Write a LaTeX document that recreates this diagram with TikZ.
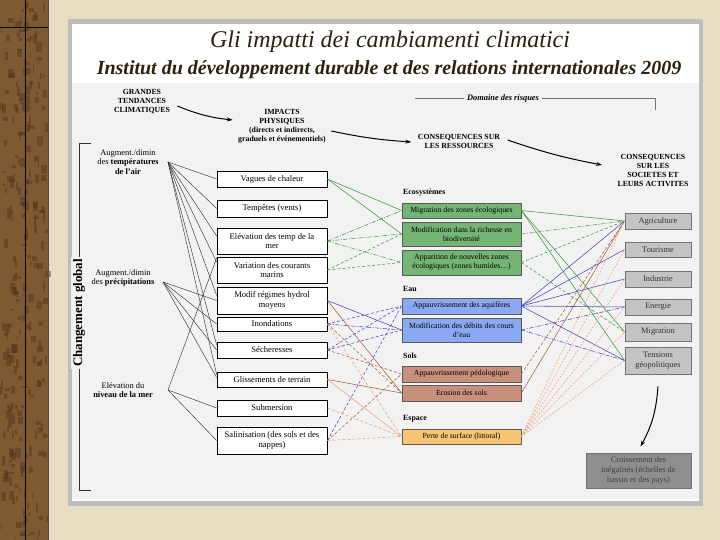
\documentclass[tikz,border=0pt]{standalone}
\usepackage{fontspec}
\setmainfont{Liberation Serif}
\usetikzlibrary{arrows.meta,calc}
\definecolor{bgbeige}{HTML}{E6DDC2}
\definecolor{wood}{HTML}{7E5A32}
\definecolor{wooddark}{HTML}{4E3418}
\definecolor{panelborder}{HTML}{BDBDBD}
\definecolor{panelgray}{HTML}{F2F2F2}
\definecolor{titlecol}{HTML}{2E200E}
\definecolor{gbox}{HTML}{74B474}
\definecolor{bbox}{HTML}{8BA9F2}
\definecolor{brbox}{HTML}{C8907A}
\definecolor{obox}{HTML}{F8C572}
\definecolor{cbox}{HTML}{C4C4C4}
\definecolor{dbox}{HTML}{8E8E8E}
\definecolor{lg}{HTML}{3C9A3C}
\definecolor{lb}{HTML}{4646C8}
\definecolor{lbr}{HTML}{A8603C}
\definecolor{lo}{HTML}{F0A078}
\begin{document}
\begin{tikzpicture}[x=1pt,y=-1pt,
  imp/.style={draw=black, line width=0.7pt, fill=white, minimum width=110pt, inner sep=0pt, align=center, font=\fontsize{8.6}{9.6}\selectfont},
  res/.style={draw=black!65, line width=0.7pt, minimum width=119pt, inner sep=0pt, align=center, font=\fontsize{7.8}{9}\selectfont},
  con/.style={draw=black!55, line width=0.8pt, fill=cbox, minimum width=66pt, inner sep=0pt, align=center, font=\fontsize{8.4}{9.6}\selectfont, text=black!80},
  hdr/.style={align=center, font=\fontsize{7.8}{9}\selectfont\bfseries},
  drv/.style={align=center, font=\fontsize{8.4}{9.6}\selectfont},
  cat/.style={anchor=west, inner sep=0pt, font=\fontsize{7.9}{9}\selectfont\bfseries},
  blk/.style={black!80, line width=0.45pt},
  dsh/.style={dash pattern=on 3pt off 2pt},
  ddt/.style={dash pattern=on 4pt off 1.5pt on 1pt off 1.5pt},
  dtt/.style={dash pattern=on 2pt off 1.5pt},
  cn/.style={line width=0.55pt},
  bigarrow/.style={line width=1pt, -{Stealth[length=6pt,width=4pt]}}
]
\useasboundingbox (0,0) rectangle (720,540);
% background
\fill[bgbeige] (0,0) rectangle (720,540);
\fill[wood] (0,0) rectangle (48,540);
\pgfmathsetseed{7}
\foreach \i in {1,...,260}{
  \pgfmathsetmacro\xx{rnd*46}
  \pgfmathsetmacro\yy{rnd*538}
  \pgfmathsetmacro\ww{1+rnd*5}
  \pgfmathsetmacro\hh{2+rnd*8}
  \fill[wooddark, opacity=0.45] (\xx,\yy) rectangle ++(\ww,\hh);
}
\draw[black, line width=0.8pt] (25,0) -- (25,540);
\draw[black, line width=0.8pt] (0,27) -- (48,27);
\draw[black!70, line width=0.6pt] (48,0) -- (48,540);
% panel
\fill[panelborder] (68,19) rectangle (703,506);
\fill[white] (72,24) rectangle (699,501);
\fill[panelgray] (72,83) rectangle (699,499);
% titles
\node[font=\fontsize{24}{26}\selectfont\itshape, text=titlecol] (title) at (390,42) {Gli impatti dei cambiamenti climatici};
\node[font=\fontsize{20}{22}\selectfont\bfseries\itshape, text=titlecol] (subtitle) at (389,70) {Institut du développement durable et des relations internationales 2009};

% headers
\node[hdr] (gt) at (142,102) {GRANDES\\TENDANCES\\CLIMATIQUES};
\node[hdr] (ip) at (282,126) {IMPACTS\\PHYSIQUES\\(directs et indirects,\\graduels et événementiels)};
\node[hdr] (cr) at (459,141) {CONSEQUENCES SUR\\LES RESSOURCES};
\node[hdr] (cs) at (653,170) {CONSEQUENCES\\SUR LES\\SOCIETES ET\\LEURS ACTIVITES};
\node[font=\fontsize{8.4}{9}\selectfont\bfseries\itshape] (dr) at (503,98) {Domaine des risques};
\draw[black!55, line width=0.6pt] (415,98) -- (dr.west);
\draw[black!55, line width=0.6pt] (dr.east) -- (655,98) -- (655,110);
\draw[bigarrow] ([xshift=4pt,yshift=-4pt]gt.east) to[bend right=8] ([xshift=-2pt,yshift=6pt]ip.west);
\draw[bigarrow] ([xshift=2pt,yshift=-5pt]ip.east) to[bend right=4] ([xshift=-3pt,yshift=-1pt]cr.west);
\draw[bigarrow] ([xshift=4pt,yshift=1pt]cr.east) to[bend right=4] ([xshift=-12pt,yshift=5pt]cs.west);

% left bracket
\draw[black!80, line width=0.6pt] (91,143) -- (79,143) -- (79,490) -- (91,490);
\node[rotate=90, fill=panelgray, inner sep=2pt, font=\fontsize{13}{15}\selectfont\bfseries] (cg) at (79,313) {Changement global};

% drivers
\node[drv] (dt) at (128,162) {Augment./dimin\\des \textbf{températures}\\\textbf{de l'air}};
\node[drv] (dp) at (123,278) {Augment./dimin\\des \textbf{précipitations}};
\node[drv] (ds) at (123,390) {Elévation du\\\textbf{niveau de la mer}};
\coordinate (tP) at (168,162);
\coordinate (pP) at (163,282);
\coordinate (sP) at (168,390);

% impacts
\node[imp, minimum height=16pt] (vag) at (272,179) {Vagues de chaleur};
\node[imp, minimum height=17pt] (tem) at (272,208.5) {Tempêtes (vents)};
\node[imp, minimum height=26pt] (ele) at (272,241) {Elévation des temp de la\\mer};
\node[imp, minimum height=26pt] (var) at (272,270) {Variation des courants\\marins};
\node[imp, minimum height=27pt] (mod) at (272,300.5) {Modif régimes hydrol\\moyens};
\node[imp, minimum height=14pt] (inon) at (272,324) {Inondations};
\node[imp, minimum height=16pt] (sec) at (272,350) {Sécheresses};
\node[imp, minimum height=15pt] (gli) at (272,379.5) {Glissements de terrain};
\node[imp, minimum height=16pt] (sub) at (272,408) {Submersion};
\node[imp, minimum height=27pt] (sal) at (272,440.5) {Salinisation (des sols et des\\nappes)};

% resources
\node[cat] (eco) at (403,193) {Ecosystèmes};
\node[res, fill=gbox, minimum height=15pt] (mig) at (461.5,210.5) {Migration des zones écologiques};
\node[res, fill=gbox, minimum height=24pt] (bio) at (461.5,234) {Modification dans la richesse en\\biodiversité};
\node[res, fill=gbox, minimum height=25pt] (app) at (461.5,262.5) {Apparition de nouvelles zones\\écologiques (zones humides…)};
\node[cat] (eau) at (403,289) {Eau};
\node[res, fill=bbox, minimum height=16pt] (aqu) at (461.5,306) {Appauvrissement des aquifères};
\node[res, fill=bbox, minimum height=24pt] (deb) at (461.5,330) {Modification des débits des cours\\d'eau};
\node[cat] (sol) at (403,356) {Sols};
\node[res, fill=brbox, minimum height=16pt] (ped) at (461.5,374) {Appauvrissement pédologique};
\node[res, fill=brbox, minimum height=16pt] (ero) at (461.5,393) {Erosion des sols};
\node[cat] (esp) at (403,419) {Espace};
\node[res, fill=obox, minimum height=15pt] (per) at (461.5,436.5) {Perte de surface (littoral)};

% consequences
\node[con, minimum height=16pt] (agr) at (658,221) {Agriculture};
\node[con, minimum height=15pt] (tou) at (658,249.5) {Tourisme};
\node[con, minimum height=16pt] (ind) at (658,279) {Industrie};
\node[con, minimum height=16pt] (ene) at (658,307) {Energie};
\node[con, minimum height=18pt] (mgr) at (658,332) {Migration};
\node[con, minimum height=27pt] (ten) at (658,360.5) {Tensions\\géopolitiques};
\node[con, fill=dbox, minimum width=105pt, minimum height=35pt, text=black!75] (ine) at (638.5,470.5) {Croissement des\\inégalités (échelles de\\bassin et des pays)};
\draw[bigarrow] ([yshift=-12pt]ten.south) to[bend left=12] ([xshift=2pt,yshift=6pt]ine.north);

% drivers -> impacts
\draw[blk] (tP) -- (vag.west);
\draw[blk] (tP) -- (tem.west);
\draw[blk] (tP) -- ([yshift=5pt]ele.west);
\draw[blk] (tP) -- ([yshift=8pt]var.west);
\draw[blk] (tP) -- ([yshift=5pt]mod.west);
\draw[blk] (tP) -- ([yshift=5pt]sec.west);
\draw[blk] (tP) -- ([yshift=5pt]gli.west);
\draw[blk] (pP) -- (mod.west);
\draw[blk] (pP) -- (inon.west);
\draw[blk] (pP) -- (sec.west);
\draw[blk] (pP) -- ([yshift=2pt]gli.west);
\draw[blk] (sP) -- ([yshift=12pt]var.west);
\draw[blk] (sP) -- (sub.west);
\draw[blk] (sP) -- (sal.west);

% impacts -> resources
\draw[cn, lg] (vag.east) -- (mig.west);
\draw[cn, lg] (vag.east) -- (bio.west);
\draw[cn, lg, ddt] (ele.east) -- (mig.west);
\draw[cn, lg, ddt] (ele.east) -- (bio.west);
\draw[cn, lg, ddt] (ele.east) -- (app.west);
\draw[cn, lg, dsh] (var.east) -- (bio.west);
\draw[cn, lg, dsh] (var.east) -- (app.west);
\draw[cn, lb] (mod.east) -- (deb.west);
\draw[cn, lb, dsh] (inon.east) -- (aqu.west);
\draw[cn, lb, ddt] (inon.east) -- (deb.west);
\draw[cn, lb, dsh] (sec.east) -- (aqu.west);
\draw[cn, lb, dsh] (sec.east) -- (deb.west);
\draw[cn, lb, dsh] (sal.east) -- (aqu.west);
\draw[cn, lbr] (mod.east) -- (ero.west);
\draw[cn, lbr, dsh] (inon.east) -- (ero.west);
\draw[cn, lbr, dsh] (sec.east) -- (ped.west);
\draw[cn, lbr] (gli.east) -- (ero.west);
\draw[cn, lbr, dsh] (sal.east) -- (ped.west);
\draw[cn, lo, dsh] (inon.east) -- (per.west);
\draw[cn, lo] (gli.east) -- (per.west);
\draw[cn, lo, dsh] (sub.east) -- (per.west);
\draw[cn, lo, dsh] (sal.east) -- (per.west);

% resources -> consequences
\draw[cn, lg] (mig.east) -- (agr.west);
\draw[cn, lg] (mig.east) -- (mgr.west);
\draw[cn, lg] (mig.east) -- (ten.west);
\draw[cn, lg, ddt] (bio.east) -- (agr.west);
\draw[cn, lg, dsh] (app.east) -- (agr.west);
\draw[cn, lg, dsh] (app.east) -- (mgr.west);
\draw[cn, lb] (aqu.east) -- (agr.west);
\draw[cn, lb] (aqu.east) -- (tou.west);
\draw[cn, lb] (aqu.east) -- (ind.west);
\draw[cn, lb] (aqu.east) -- (ene.west);
\draw[cn, lb] (aqu.east) -- (ten.west);
\draw[cn, lb, ddt] (deb.east) -- (ene.west);
\draw[cn, lb, ddt] (deb.east) -- (ten.west);
\draw[cn, lbr, dsh] (ped.east) -- (agr.west);
\draw[cn, lbr] (ero.east) -- (agr.west);
\foreach \t in {agr,tou,ind,ene,mgr,ten}{
  \draw[cn, lo, dtt] (per.east) -- (\t.west);
}
\end{tikzpicture}
\end{document}
